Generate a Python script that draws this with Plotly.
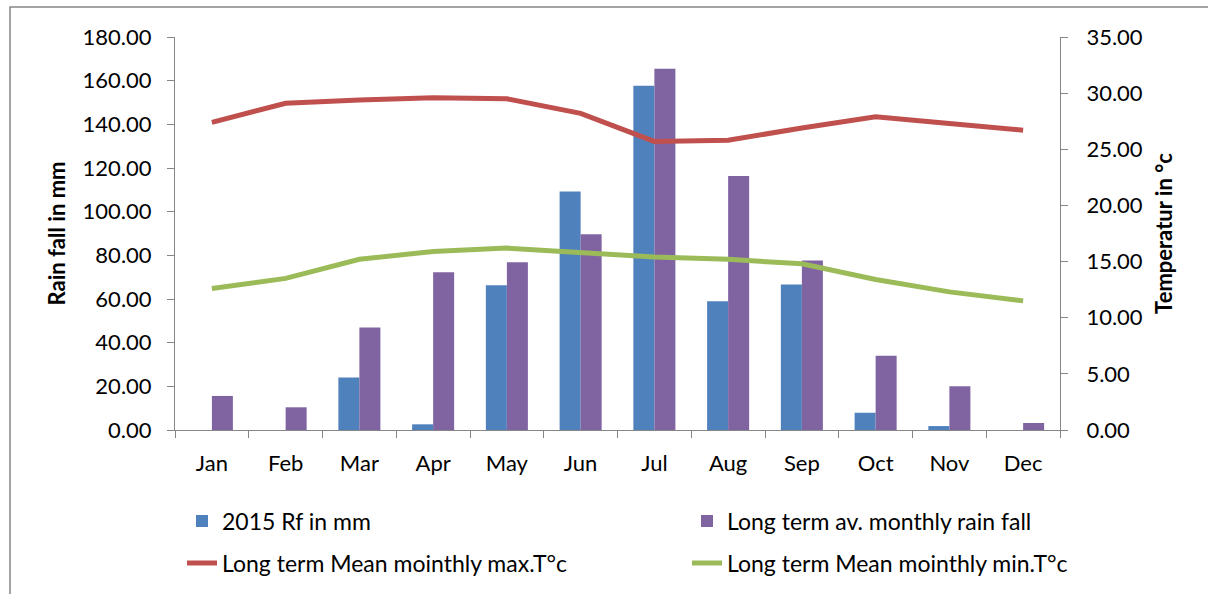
import plotly.graph_objects as go

months = ["Jan", "Feb", "Mar", "Apr", "May", "Jun", "Jul", "Aug", "Sep", "Oct", "Nov", "Dec"]
rf_2015 = [0.0, 0.0, 24.1, 2.6, 66.3, 109.2, 157.7, 59.0, 66.6, 7.9, 1.8, 0.0]
rf_longterm = [15.6, 10.4, 47.0, 72.2, 76.8, 89.6, 165.5, 116.3, 77.6, 34.0, 20.0, 3.2]
tmax = [27.4, 29.1, 29.4, 29.6, 29.5, 28.2, 25.7, 25.8, 26.9, 27.9, 27.3, 26.7]
tmin = [12.6, 13.5, 15.2, 15.9, 16.2, 15.8, 15.4, 15.2, 14.8, 13.4, 12.3, 11.5]

names = ["2015 Rf in mm", "Long term av. monthly rain fall",
         "Long term Mean mointhly max.T°c", "Long term Mean mointhly min.T°c"]

FONT = "Lato"
GRAY = "#868686"

fig = go.Figure()
fig.add_trace(go.Bar(x=months, y=rf_2015, name=names[0], marker_color="#4F81BD",
                     marker_line_width=0, legend="legend", showlegend=True))
fig.add_trace(go.Bar(x=months, y=rf_longterm, name=names[1], marker_color="#8064A2",
                     marker_line_width=0, legend="legend2", showlegend=True))
fig.add_trace(go.Scatter(x=months, y=tmax, name=names[2], mode="lines", yaxis="y2",
                         line=dict(color="#C0504D", width=5), legend="legend3", showlegend=True))
fig.add_trace(go.Scatter(x=months, y=tmin, name=names[3], mode="lines", yaxis="y2",
                         line=dict(color="#9BBB59", width=5), legend="legend4", showlegend=True))

L, R, T, B = 175, 1060, 37, 430
W, H = 1208, 594
pw, ph = R - L, B - T

def px_x(p):
    return (p - L) / pw

def px_y(p):
    return (B - p) / ph

def leg(xp, yp):
    return dict(orientation="h", xanchor="left", yanchor="middle",
                x=px_x(xp), y=px_y(yp), visible=True,
                font=dict(family=FONT, size=23, color="#000000"),
                bgcolor="rgba(0,0,0,0)")

fig.update_layout(
    width=W, height=H, showlegend=True,
    margin=dict(l=L, r=W - R, t=T, b=H - B, autoexpand=False),
    paper_bgcolor="white", plot_bgcolor="white",
    barmode="group", bargap=0.43, bargroupgap=0,
    font=dict(family=FONT, size=22, color="#000000"),
    xaxis=dict(
        type="category", showgrid=False, showline=True, linecolor=GRAY, linewidth=1,
        ticks="outside", tickson="boundaries", ticklen=7, tickcolor=GRAY,
        tickfont=dict(family=FONT, size=22, color="#000000"),
        ticklabelstandoff=14, range=[-0.5, 11.5],
    ),
    yaxis=dict(
        range=[0, 180], dtick=20, tickformat=".2f", showgrid=False, zeroline=False,
        showline=True, linecolor=GRAY, linewidth=1, ticks="outside", ticklen=7,
        tickcolor=GRAY, tickfont=dict(family=FONT, size=22, color="#000000"),
        ticklabelstandoff=11,
        title=dict(text="<b>Rain fall in mm</b>", font=dict(family=FONT, size=22, color="#000000"),
                   standoff=10),
        automargin=False,
    ),
    yaxis2=dict(
        range=[0, 35], dtick=5, tickformat=".2f", showgrid=False, zeroline=False,
        overlaying="y", side="right",
        showline=True, linecolor=GRAY, linewidth=1, ticks="outside", ticklen=7,
        tickcolor=GRAY, tickfont=dict(family=FONT, size=22, color="#000000"),
        ticklabelstandoff=14,
        title=dict(text="<b>Temperatur in °c</b>", font=dict(family=FONT, size=22, color="#000000"),
                   standoff=14),
        automargin=False,
    ),
    legend=leg(182, 521),
    legend2=leg(687, 521),
    legend3=leg(182, 563),
    legend4=leg(687, 563),
    shapes=[dict(type="rect", xref="paper", yref="paper",
                 x0=px_x(10), x1=px_x(1240), y0=px_y(640), y1=px_y(7),
                 line=dict(color=GRAY, width=1.5), fillcolor="rgba(0,0,0,0)", layer="below")],
)

fig.write_html("out.html", config={"displayModeBar": False},
               post_script="document.body.style.margin='0px';")
